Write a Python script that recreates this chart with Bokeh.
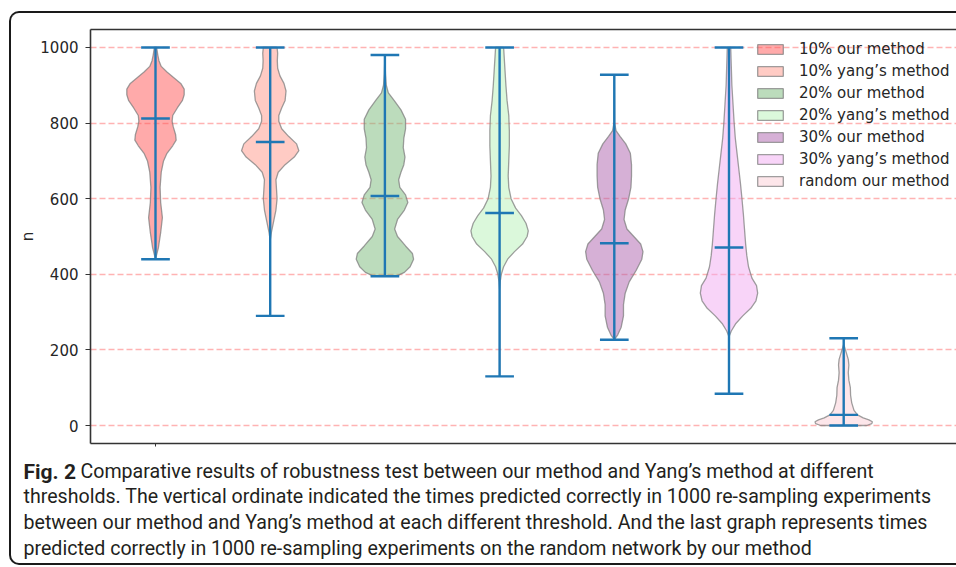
import numpy as np
from bokeh.plotting import figure
from bokeh.layouts import column
from bokeh.models import (ColumnDataSource, FixedTicker, LinearAxis, Range1d,
                          Legend, LegendItem, InlineStyleSheet)
from bokeh.core.properties import value
from bokeh.embed import file_html
from bokeh.resources import INLINE

# ---------------- data ----------------
series_labels = ["10% our method", "10% yang\u2019s method", "20% our method",
                 "20% yang\u2019s method", "30% our method", "30% yang\u2019s method",
                 "random our method"]
positions = [1, 2, 3, 4, 5, 6, 7]
mins = [440, 290, 395, 130, 227, 84, 0]
maxs = [1000, 1000, 980, 1000, 928, 1000, 231]
medians = [812, 750, 607, 562, 482, 471, 28]
y_ticks = [0, 200, 400, 600, 800, 1000]

# violin density profiles (n value, half-width as fraction of slot)
prof1_n = [440, 470, 510, 550, 590, 630, 670, 700, 720, 740, 755, 770, 790, 805, 820, 840, 860, 875, 890, 905, 920, 935, 950, 965, 980, 1000]
prof1_w = [0.0, 0.025, 0.045, 0.06, 0.045, 0.04, 0.05, 0.07, 0.1, 0.15, 0.18, 0.175, 0.155, 0.145, 0.15, 0.19, 0.235, 0.25, 0.25, 0.22, 0.16, 0.1, 0.05, 0.03, 0.02, 0.01]

prof2_n = [290, 490, 510, 540, 570, 600, 625, 650, 670, 690, 710, 727, 745, 765, 785, 805, 820, 840, 860, 885, 905, 925, 945, 965, 985, 1000]
prof2_w = [0.0, 0.0, 0.01, 0.03, 0.05, 0.06, 0.055, 0.05, 0.07, 0.13, 0.21, 0.25, 0.23, 0.16, 0.1, 0.075, 0.075, 0.1, 0.13, 0.138, 0.12, 0.085, 0.065, 0.062, 0.065, 0.06]

prof3_n = [395, 405, 420, 440, 455, 475, 500, 520, 545, 570, 590, 610, 630, 650, 670, 690, 710, 735, 760, 785, 810, 835, 860, 880, 900, 930, 980]
prof3_w = [0.1, 0.17, 0.22, 0.25, 0.24, 0.18, 0.11, 0.085, 0.11, 0.17, 0.2, 0.18, 0.13, 0.12, 0.14, 0.165, 0.175, 0.16, 0.165, 0.18, 0.18, 0.14, 0.08, 0.03, 0.012, 0.005, 0.0]

prof4_n = [130, 360, 380, 400, 420, 440, 460, 480, 500, 515, 535, 555, 575, 600, 630, 660, 700, 740, 780, 820, 860, 900, 950, 1000]
prof4_w = [0.0, 0.0, 0.005, 0.015, 0.035, 0.07, 0.13, 0.2, 0.24, 0.25, 0.23, 0.19, 0.14, 0.1, 0.08, 0.075, 0.08, 0.085, 0.085, 0.08, 0.065, 0.055, 0.045, 0.035]

prof5_n = [227, 240, 260, 290, 320, 350, 380, 410, 440, 460, 480, 500, 520, 545, 570, 600, 630, 660, 690, 720, 745, 765, 780, 800, 928]
prof5_w = [0.0, 0.03, 0.06, 0.08, 0.08, 0.095, 0.13, 0.19, 0.24, 0.25, 0.23, 0.17, 0.11, 0.085, 0.095, 0.125, 0.145, 0.15, 0.15, 0.14, 0.1, 0.05, 0.015, 0.003, 0.0]

prof6_n = [84, 235, 250, 270, 290, 310, 330, 350, 370, 390, 420, 450, 480, 520, 560, 600, 640, 680, 720, 760, 800, 850, 900, 950, 1000]
prof6_w = [0.0, 0.0, 0.02, 0.06, 0.12, 0.19, 0.235, 0.25, 0.24, 0.2, 0.17, 0.155, 0.145, 0.135, 0.125, 0.113, 0.1, 0.085, 0.07, 0.055, 0.045, 0.035, 0.025, 0.02, 0.015]

prof7_n = [0, 5, 10, 15, 20, 28, 40, 60, 80, 100, 120, 140, 160, 175, 190, 205, 215, 231]
prof7_w = [0.2, 0.245, 0.25, 0.22, 0.17, 0.12, 0.09, 0.07, 0.06, 0.058, 0.045, 0.04, 0.045, 0.04, 0.025, 0.01, 0.0, 0.0]

profiles_n = [prof1_n, prof2_n, prof3_n, prof4_n, prof5_n, prof6_n, prof7_n]
profiles_w = [prof1_w, prof2_w, prof3_w, prof4_w, prof5_w, prof6_w, prof7_w]

# fill colours (drawn at alpha 0.5)
fill_colors = ["#ff5555", "#ff9789", "#79b979", "#b7f1b7", "#ad61ad", "#f1a9f1", "#fbcdd5"]

caption_bold = ["Fig. 2"]
caption_lines = [
    "Comparative results of robustness test between our method and Yang\u2019s method at different",
    "thresholds. The vertical ordinate indicated the times predicted correctly in 1000 re-sampling experiments",
    "between our method and Yang\u2019s method at each different threshold. And the last graph represents times",
    "predicted correctly in 1000 re-sampling experiments on the random network by our method",
]

# ---------------- layout ----------------
W = 956
H1 = 459           # main figure height
H2 = 567 - H1      # caption figure height
FL, FT, FB = 90, 29, 16
FW, FH = W - FL, H1 - FT - FB
XS, XE = 0.4333, 0.4333 + FW / 114.7
YS, YE = -47.6, 1047.6

p = figure(width=W, height=H1, output_backend="svg", toolbar_location=None,
           x_range=Range1d(XS, XE), y_range=Range1d(YS, YE),
           min_border_left=FL, min_border_top=FT, min_border_bottom=FB, min_border_right=0,
           background_fill_color="white", border_fill_color="white")
p.outline_line_color = None
p.frame_align = False

FONT = "DejaVu Sans"
SPINE = "#333333"

# y axis
yax = p.yaxis[0]
yax.ticker = FixedTicker(ticks=y_ticks)
yax.axis_label = "n"
yax.axis_label_text_font = FONT
yax.axis_label_text_font_size = "15px"
yax.axis_label_text_font_style = "normal"
yax.axis_label_text_color = "#262626"
yax.axis_label_standoff = 0
yax.major_label_text_font = FONT
yax.major_label_text_font_size = "15px"
yax.major_label_text_color = "#262626"
yax.major_label_standoff = 7
yax.major_tick_out = 5
yax.major_tick_in = 0
yax.minor_tick_out = 0
yax.minor_tick_in = 0
yax.major_tick_line_color = SPINE
yax.axis_line_color = SPINE
yax.axis_line_width = 1.6

# x axis (only the spine and one tiny tick)
xax = p.xaxis[0]
xax.ticker = FixedTicker(ticks=[positions[0]])
xax.major_label_overrides = {positions[0]: " "}
xax.major_label_text_font_size = "1px"
xax.major_tick_out = 3
xax.major_tick_in = 0
xax.minor_tick_out = 0
xax.minor_tick_in = 0
xax.major_tick_line_color = SPINE
xax.axis_line_color = SPINE
xax.axis_line_width = 1.6

top_ax = LinearAxis(ticker=FixedTicker(ticks=[]), major_tick_out=0, minor_tick_out=0,
                    axis_line_color=SPINE, axis_line_width=1.6)
p.add_layout(top_ax, "above")

p.xgrid.visible = False
p.ygrid.ticker = FixedTicker(ticks=y_ticks)
p.ygrid.grid_line_color = "#ff8080"
p.ygrid.grid_line_alpha = 0.6
p.ygrid.grid_line_width = 1.3
p.ygrid.grid_line_dash = "6 3"

# violins
renderers = []
for pos, ns, ws, col in zip(positions, profiles_n, profiles_w, fill_colors):
    ns = np.array(ns, dtype=float)
    ws = np.array(ws, dtype=float)
    xs = np.concatenate([pos + ws, (pos - ws)[::-1]])
    ys = np.concatenate([ns, ns[::-1]])
    src = ColumnDataSource(dict(x=xs, y=ys))
    r = p.patch("x", "y", source=src, fill_color=col, fill_alpha=0.5,
                line_color="#7f7f7f", line_alpha=0.75, line_width=1.3)
    renderers.append(r)

# whiskers, caps, medians
CAP = 0.125
pos_a = np.array(positions, dtype=float)
wsrc = ColumnDataSource(dict(x=pos_a, lo=mins, hi=maxs, med=medians,
                             xl=pos_a - CAP, xr=pos_a + CAP))
BLUE = "#1f77b4"
p.segment("x", "lo", "x", "hi", source=wsrc, line_color=BLUE, line_width=2.4)
p.segment("xl", "lo", "xr", "lo", source=wsrc, line_color=BLUE, line_width=2.4)
p.segment("xl", "hi", "xr", "hi", source=wsrc, line_color=BLUE, line_width=2.4)
p.segment("xl", "med", "xr", "med", source=wsrc, line_color=BLUE, line_width=2.4)

# legend
legend = Legend(items=[LegendItem(label=l, renderers=[r]) for l, r in zip(series_labels, renderers)],
                location=(664, 251), orientation="vertical",
                glyph_width=32, glyph_height=12, label_height=22, spacing=0,
                padding=0, margin=0, label_standoff=13,
                label_text_font=FONT, label_text_font_size="15px",
                label_text_color="#262626", label_text_baseline="middle",
                background_fill_alpha=0, border_line_color=None)
p.add_layout(legend)

# ---------------- caption figure ----------------
pc = figure(width=W, height=H2, output_backend="svg", toolbar_location=None,
            x_range=Range1d(0, W), y_range=Range1d(567, H1),
            x_axis_type=None, y_axis_type=None, min_border=0,
            background_fill_color="white", border_fill_color="white")
pc.outline_line_color = None
pc.grid.visible = False
pc.frame_align = False

CAP_FONT = value("Roboto")
CAP_COLOR = "#231f20"
line_y = [471, 496, 522, 548]
line_x = [80, 23, 23, 23]
pc.text(x=[23], y=[line_y[0]], text=caption_bold, text_font=CAP_FONT,
        text_font_size=value("21px"), text_font_style="bold", text_color=CAP_COLOR,
        text_baseline="middle", text_align="left")
pc.text(x=line_x, y=line_y, text=caption_lines, text_font=CAP_FONT,
        text_font_size=value("19.6px"), text_color=CAP_COLOR,
        text_baseline="middle", text_align="left")

frame_css = InlineStyleSheet(css="""
:host::after {
  content: "";
  position: absolute;
  left: 9px; top: 11px; right: -24px; bottom: 2px;
  border: 2px solid #1a1a1a;
  border-right: none;
  border-top-left-radius: 10px;
  border-bottom-left-radius: 10px;
  pointer-events: none;
  box-sizing: border-box;
}
""")

layout = column(p, pc, spacing=0, stylesheets=[frame_css])

open("out.html", "w").write(file_html(layout, INLINE))
